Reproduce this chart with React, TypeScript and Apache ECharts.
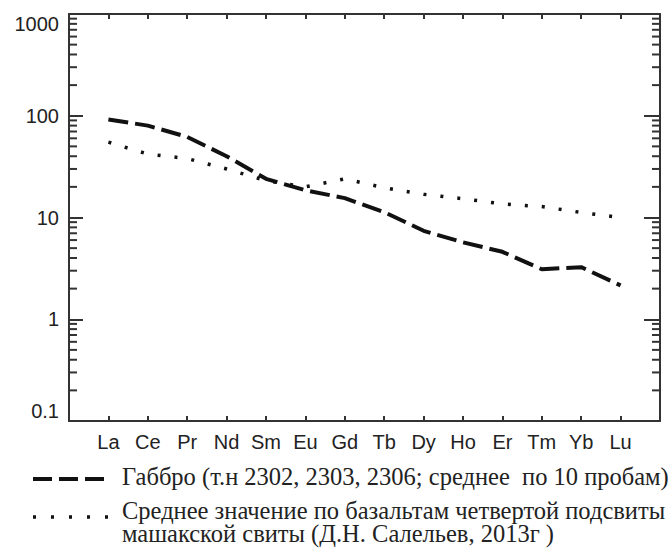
import React, { useEffect, useRef } from "react";
import * as echarts from "echarts";

// Rare earth elements along the x axis
const elements = ["La", "Ce", "Pr", "Nd", "Sm", "Eu", "Gd", "Tb", "Dy", "Ho", "Er", "Tm", "Yb", "Lu"];

// Chondrite-normalised concentrations
const gabbro = [92, 80, 62, 40, 24, 18.5, 15.5, 11.3, 7.4, 5.7, 4.6, 3.1, 3.25, 2.15];
const basalt = [55, 42, 38, 30, 23, 20, 24, 19.6, 16.9, 15.3, 13.6, 12.8, 11.2, 10];

// Log axis range, its decades and the minor steps inside each decade
const yMin = 0.1;
const yMax = 1000;
const decades = [0.1, 1, 10, 100];
const minorSteps = [2, 3, 4, 5, 6, 7, 8, 9];

const legendGabbro = "Габбро (т.н 2302, 2303, 2306; среднее  по 10 пробам)";
const legendBasalt = "Среднее значение по базальтам четвертой подсвиты\nмашакской свиты (Д.Н. Салельев, 2013г )";

const AXIS = "#333";
const SANS = "Liberation Sans";
const SERIF = "Liberation Serif";

const GRID = { left: 69, top: 14, width: 591, height: 407 };
const MINOR_LEN = 8;

export default function App() {
  const ref = useRef<HTMLDivElement>(null);

  useEffect(() => {
    if (!ref.current) return;
    const chart = echarts.init(ref.current, undefined, { renderer: "svg" });

    // pad the category axis with an empty slot on each side
    const cats = ["", ...elements, ""];
    const pad = (arr: number[]) => [null, ...arr, null];
    const last = cats.length - 1;
    const tickInterval = (i: number) => i !== 0 && i !== last;

    chart.setOption({
      animation: false,
      backgroundColor: "#fff",
      grid: { ...GRID, containLabel: false },
      xAxis: [
        {
          type: "category",
          data: cats,
          boundaryGap: false,
          position: "bottom",
          axisLine: { lineStyle: { color: AXIS, width: 2 } },
          axisTick: { inside: true, length: 5, interval: tickInterval, lineStyle: { color: AXIS, width: 2 } },
          axisLabel: { interval: 0, fontSize: 20, fontFamily: SANS, color: "#222", margin: 11 },
          splitLine: { show: false },
        },
        {
          type: "category",
          data: cats,
          boundaryGap: false,
          position: "top",
          axisLine: { lineStyle: { color: AXIS, width: 2 } },
          axisTick: { inside: true, length: 5, interval: tickInterval, lineStyle: { color: AXIS, width: 2 } },
          axisLabel: { show: false },
          splitLine: { show: false },
        },
      ],
      yAxis: [
        {
          type: "log",
          logBase: 10,
          min: yMin,
          max: yMax,
          position: "left",
          axisLine: { show: true, lineStyle: { color: AXIS, width: 2 } },
          axisTick: { show: true, inside: true, length: 14, lineStyle: { color: AXIS, width: 2 } },
          axisLabel: {
            fontSize: 20,
            fontFamily: SANS,
            color: "#222",
            margin: 10,
            verticalAlignMaxLabel: "top",
            verticalAlignMinLabel: "bottom",
            formatter: (v: number) => String(v),
          },
          splitLine: { show: false },
        },
        {
          type: "log",
          logBase: 10,
          min: yMin,
          max: yMax,
          position: "right",
          axisLine: { show: true, lineStyle: { color: AXIS, width: 2 } },
          axisTick: { show: true, inside: true, length: 16, lineStyle: { color: AXIS, width: 2 } },
          axisLabel: { show: false },
          splitLine: { show: false },
        },
      ],
      series: [
        {
          name: "gabbro",
          type: "line",
          data: pad(gabbro),
          symbol: "none",
          lineStyle: { color: "#111", width: 4, type: [20, 7], cap: "butt" },
        },
        {
          name: "basalt",
          type: "line",
          data: pad(basalt),
          symbol: "none",
          lineStyle: { color: "#111", width: 3.5, type: [3, 14], cap: "butt" },
        },
      ],
    });

    // vertical pixel of a value on the log y axis: the axis' own conversion,
    // with the same log mapping over the grid as a fallback
    const yPixel = (v: number) => {
      const p = Number(chart.convertToPixel({ yAxisIndex: 0 }, v));
      if (isFinite(p)) return p;
      const span = Math.log10(yMax) - Math.log10(yMin);
      return GRID.top + (GRID.height * (Math.log10(yMax) - Math.log10(v))) / span;
    };

    // minor log ticks (2..9 in each decade) on both frame edges
    const xLeft = GRID.left;
    const xRight = GRID.left + GRID.width;
    const tickStyle = { stroke: AXIS, lineWidth: 2 };
    const minorTicks: any[] = [];
    decades.forEach((d) =>
      minorSteps.forEach((s) => {
        const y = yPixel(d * s);
        minorTicks.push(
          { type: "line", z: 100, shape: { x1: xLeft, y1: y, x2: xLeft + MINOR_LEN, y2: y }, style: tickStyle },
          { type: "line", z: 100, shape: { x1: xRight, y1: y, x2: xRight - MINOR_LEN, y2: y }, style: tickStyle }
        );
      })
    );

    chart.setOption({
      graphic: [
        ...minorTicks,
        {
          type: "line",
          shape: { x1: 33, y1: 479, x2: 108, y2: 479 },
          style: { stroke: "#111", lineWidth: 4, lineDash: [19, 7] },
        },
        {
          type: "text",
          x: 122,
          y: 476,
          style: {
            text: legendGabbro,
            fontFamily: SERIF,
            fontSize: 24.5,
            fill: "#222",
            verticalAlign: "middle",
          },
        },
        {
          type: "line",
          shape: { x1: 33, y1: 517, x2: 108, y2: 517 },
          style: { stroke: "#111", lineWidth: 3.5, lineDash: [3, 15] },
        },
        {
          type: "text",
          x: 122,
          y: 522,
          style: {
            text: legendBasalt,
            fontFamily: SERIF,
            fontSize: 24.5,
            lineHeight: 23,
            fill: "#222",
            verticalAlign: "middle",
          },
        },
      ],
    });

    return () => chart.dispose();
  }, []);

  return (
    <div
      ref={ref}
      style={{ position: "fixed", left: 0, top: 0, width: 671, height: 549, background: "#fff" }}
    />
  );
}
